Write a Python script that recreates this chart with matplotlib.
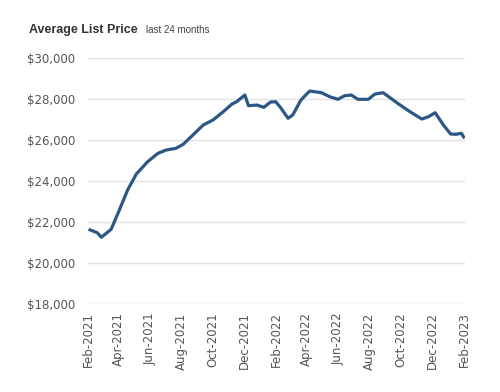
import matplotlib
matplotlib.use("Agg")
import matplotlib.pyplot as plt
import matplotlib.dates as mdates
import pandas as pd

dates = ["2021-02-01", "2021-02-18", "2021-02-26", "2021-03-17", "2021-04-02",
         "2021-04-18", "2021-05-05", "2021-05-27", "2021-06-16", "2021-07-02",
         "2021-07-21", "2021-08-04", "2021-08-23", "2021-09-12", "2021-10-01",
         "2021-10-21", "2021-11-07", "2021-11-16", "2021-12-02", "2021-12-09",
         "2021-12-25", "2022-01-08", "2022-01-21", "2022-01-31", "2022-02-10",
         "2022-02-24", "2022-03-05", "2022-03-21", "2022-04-07", "2022-04-30",
         "2022-05-16", "2022-06-01", "2022-06-14", "2022-06-27", "2022-07-10",
         "2022-07-30", "2022-08-12", "2022-08-28", "2022-09-27", "2022-10-19",
         "2022-11-11", "2022-11-24", "2022-12-07", "2022-12-23", "2023-01-06",
         "2023-01-16", "2023-01-27", "2023-02-02"]
prices = [21644, 21478, 21254, 21644, 22585,
          23561, 24342, 24942, 25351, 25512,
          25595, 25790, 26244, 26732, 26976,
          27381, 27756, 27868, 28195, 27673,
          27707, 27595, 27854, 27868, 27561,
          27059, 27220, 27951, 28390, 28307,
          28112, 27985, 28161, 28195, 27985,
          27985, 28244, 28307, 27756, 27381,
          27024, 27137, 27332, 26732, 26293,
          26278, 26327, 26083]
y_ticks = [18000, 20000, 22000, 24000, 26000, 28000, 30000]
x_ticks = ["2021-02-01", "2021-04-01", "2021-06-01", "2021-08-01", "2021-10-01",
           "2021-12-01", "2022-02-01", "2022-04-01", "2022-06-01", "2022-08-01",
           "2022-10-01", "2022-12-01", "2023-02-01"]

x = pd.to_datetime(dates)
xt = pd.to_datetime(x_ticks)

fig = plt.figure(figsize=(5, 3.92), dpi=100)
ax = fig.add_axes([0.176, 0.2245, 0.754, 0.6275])

for yv in y_ticks:
    ax.axhline(yv, color="#e3e3e3", lw=1.0, zorder=0)
ax.plot(x, prices, color="#2c5785", lw=2.3, solid_joinstyle="round", solid_capstyle="butt", zorder=3)

ax.set_ylim(18000, 30000)
ax.set_xlim(pd.Timestamp("2021-01-31"), pd.Timestamp("2023-02-03"))
ax.set_yticks(y_ticks)
ax.set_yticklabels([f"${v:,.0f}" for v in y_ticks])
ax.set_xticks(xt)
ax.set_xticklabels([d.strftime("%b-%Y") for d in xt], rotation=90)
ax.tick_params(axis="both", length=0, labelsize=8.5, labelcolor="#555555")
ax.tick_params(axis="y", pad=9)
ax.tick_params(axis="x", pad=6)
for s in ax.spines.values():
    s.set_visible(False)

fig.text(0.058, 0.915, "Average List Price", fontsize=9, fontweight="bold",
         color="#333333", family="Liberation Sans", va="baseline")
fig.text(0.293, 0.915, "last 24 months", fontsize=7, color="#444444",
         family="Liberation Sans", va="baseline")

fig.savefig("out.png", dpi=100)
